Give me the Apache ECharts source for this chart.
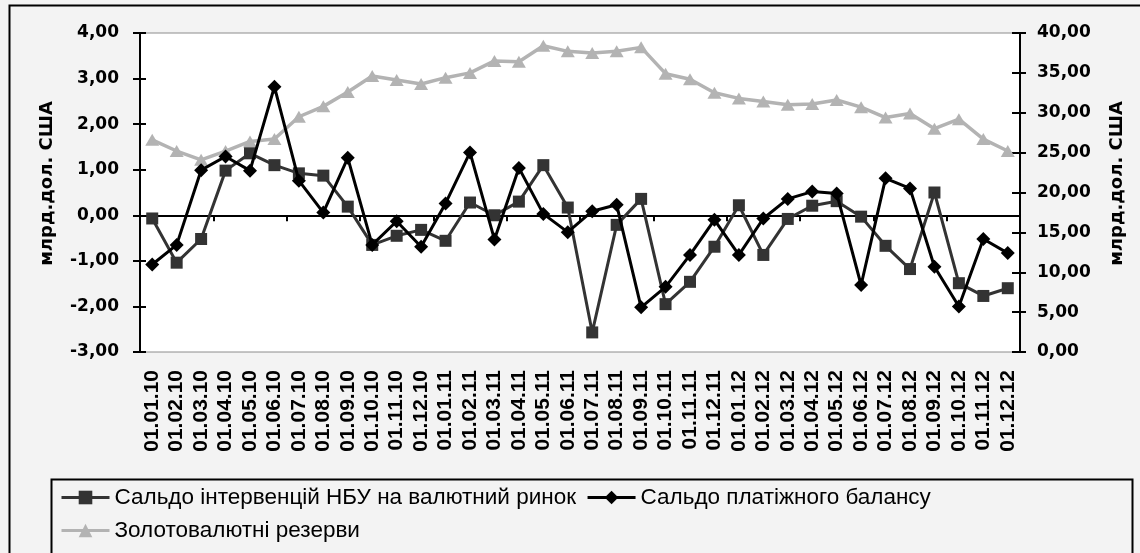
<!DOCTYPE html>
<html>
<head>
    <meta charset="UTF-8">
    <title>Сальдо інтервенцій НБУ</title>
    <script src="https://cdn.jsdelivr.net/npm/echarts@6/dist/echarts.min.js"></script>
    <style>
        html, body { margin: 0; padding: 0; background: #f3f3f3; }
        #chartContainer { width: 1140px; height: 553px; }
    </style>
</head>
<body>
<div id="chartContainer"></div>
<script>
    var categories = ['01.01.10', '01.02.10', '01.03.10', '01.04.10', '01.05.10', '01.06.10',
        '01.07.10', '01.08.10', '01.09.10', '01.10.10', '01.11.10', '01.12.10',
        '01.01.11', '01.02.11', '01.03.11', '01.04.11', '01.05.11', '01.06.11',
        '01.07.11', '01.08.11', '01.09.11', '01.10.11', '01.11.11', '01.12.11',
        '01.01.12', '01.02.12', '01.03.12', '01.04.12', '01.05.12', '01.06.12',
        '01.07.12', '01.08.12', '01.09.12', '01.10.12', '01.11.12', '01.12.12'];

    // сальдо інтервенцій НБУ, млрд.дол.
    var interventions = [-0.07, -1.04, -0.52, 0.98, 1.36, 1.10, 0.92, 0.87, 0.19, -0.65, -0.45, -0.32,
        -0.56, 0.28, 0.00, 0.30, 1.10, 0.17, -2.57, -0.21, 0.36, -1.95, -1.46, -0.69,
        0.22, -0.87, -0.08, 0.21, 0.31, -0.03, -0.67, -1.18, 0.50, -1.49, -1.77, -1.60];

    // сальдо платіжного балансу
    var balance = [-1.08, -0.65, 0.99, 1.29, 0.98, 2.82, 0.76, 0.06, 1.26, -0.65, -0.13, -0.69,
        0.26, 1.38, -0.53, 1.04, 0.03, -0.37, 0.09, 0.23, -2.02, -1.57, -0.87, -0.10,
        -0.87, -0.07, 0.36, 0.52, 0.48, -1.53, 0.81, 0.59, -1.13, -2.00, -0.52, -0.83];

    // золотовалютні резерви (права вісь)
    var reserves = [26.6, 25.2, 24.1, 25.2, 26.4, 26.7, 29.5, 30.8, 32.6, 34.6, 34.1, 33.6,
        34.4, 35.0, 36.5, 36.4, 38.4, 37.7, 37.5, 37.7, 38.2, 34.9, 34.2, 32.5,
        31.8, 31.4, 31.0, 31.1, 31.6, 30.7, 29.4, 29.9, 28.0, 29.2, 26.7, 25.2];

    var seriesNames = ['Сальдо інтервенцій НБУ на валютний ринок', 'Сальдо платіжного балансу', 'Золотовалютні резерви'];

    var BOLD_FONT = 'DejaVu Sans, sans-serif';
    var FONT = 'Liberation Sans, Arial, sans-serif';

    function fmt(v) {
        return v.toFixed(2).replace('.', ',');
    }

    var tickStyle = { color: '#000', width: 2 };
    var yLabel = { formatter: fmt, fontFamily: BOLD_FONT, fontSize: 17, fontWeight: 'bold', color: '#000' };
    // зсув назви осі трохи вгору, як в оригіналі
    var yName = { fontFamily: BOLD_FONT, fontSize: 18, fontWeight: 'bold', color: '#000', padding: [0, 0, 0, 18] };

    function drawChart() {
        var myChart = echarts.init(document.getElementById('chartContainer'));
        var option = {
            backgroundColor: '#f3f3f3',
            animation: false,
            grid: {
                left: 140, right: 120, top: 33, bottom: 201,
                show: true, backgroundColor: '#ffffff', borderColor: '#8c8c8c', borderWidth: 1
            },
            legend: {
                data: seriesNames,
                left: 60, top: 486, width: 1000,
                itemWidth: 48, itemHeight: 17, itemGap: 10,
                padding: 0,
                lineStyle: { width: 3 },
                textStyle: { fontFamily: FONT, fontSize: 22.5, color: '#000', lineHeight: 23 }
            },
            graphic: [
                {
                    type: 'rect', left: 49, top: 477, z: -1,
                    shape: { width: 1081, height: 90 },
                    style: { fill: 'none', stroke: '#000', lineWidth: 2 }
                },
                {
                    type: 'rect', left: 7, top: 3, z: -1,
                    shape: { width: 1132, height: 560 },
                    style: { fill: 'none', stroke: '#000', lineWidth: 2 }
                }
            ],
            xAxis: [
                {
                    type: 'category', data: categories,
                    axisLine: { onZero: true, onZeroAxisIndex: 0, lineStyle: tickStyle },
                    axisTick: { show: true, length: 6, lineStyle: tickStyle },
                    axisLabel: { show: false }
                },
                {
                    type: 'category', data: categories,
                    axisLine: { onZero: true, onZeroAxisIndex: 0, show: false },
                    axisTick: { show: true, inside: true, length: 6, lineStyle: tickStyle },
                    axisLabel: { show: false }
                },
                {
                    type: 'category', data: categories, position: 'bottom',
                    axisLine: { onZero: false, show: false },
                    axisTick: { show: false },
                    axisLabel: {
                        rotate: 90, margin: 18, interval: 0,
                        fontFamily: FONT, fontSize: 21, fontWeight: 'bold', color: '#000'
                    }
                }
            ],
            yAxis: [
                {
                    type: 'value', min: -3, max: 4, interval: 1,
                    name: 'млрд.дол. США', nameLocation: 'middle', nameGap: 84, nameRotate: 90,
                    nameTextStyle: yName,
                    axisLine: { show: true, lineStyle: tickStyle },
                    axisTick: { show: true, length: 7, lineStyle: tickStyle },
                    splitLine: { show: false },
                    axisLabel: Object.assign({ margin: 21 }, yLabel)
                },
                {
                    type: 'value', min: 0, max: 40, interval: 5, position: 'right',
                    name: 'млрд.дол. США', nameLocation: 'middle', nameGap: 88, nameRotate: 90,
                    nameTextStyle: yName,
                    axisLine: { show: true, lineStyle: tickStyle },
                    axisTick: { show: true, length: 6, lineStyle: tickStyle },
                    splitLine: { show: false },
                    axisLabel: Object.assign({ margin: 17 }, yLabel)
                },
                {
                    // внутрішні половинки поділок лівої осі
                    type: 'value', min: -3, max: 4, interval: 1, position: 'left',
                    axisLine: { show: false },
                    axisTick: { show: true, inside: true, length: 6, lineStyle: tickStyle },
                    axisLabel: { show: false },
                    splitLine: { show: false }
                },
                {
                    type: 'value', min: 0, max: 40, interval: 5, position: 'right',
                    axisLine: { show: false },
                    axisTick: { show: true, inside: true, length: 8, lineStyle: tickStyle },
                    axisLabel: { show: false },
                    splitLine: { show: false }
                }
            ],
            series: [
                {
                    name: seriesNames[0], type: 'line', data: interventions, z: 3,
                    symbol: 'rect', symbolSize: 12,
                    lineStyle: { color: '#333333', width: 3 },
                    itemStyle: { color: '#333333' }
                },
                {
                    name: seriesNames[1], type: 'line', data: balance, z: 4,
                    symbol: 'diamond', symbolSize: 14,
                    lineStyle: { color: '#000000', width: 3 },
                    itemStyle: { color: '#000000' }
                },
                {
                    name: seriesNames[2], type: 'line', data: reserves, yAxisIndex: 1, z: 2,
                    symbol: 'triangle', symbolSize: [14, 12],
                    lineStyle: { color: '#b3b3b3', width: 3.5 },
                    itemStyle: { color: '#b3b3b3' }
                }
            ]
        };
        myChart.setOption(option);
    }

    window.onload = function () {
        drawChart();
    };
</script>
</body>
</html>
